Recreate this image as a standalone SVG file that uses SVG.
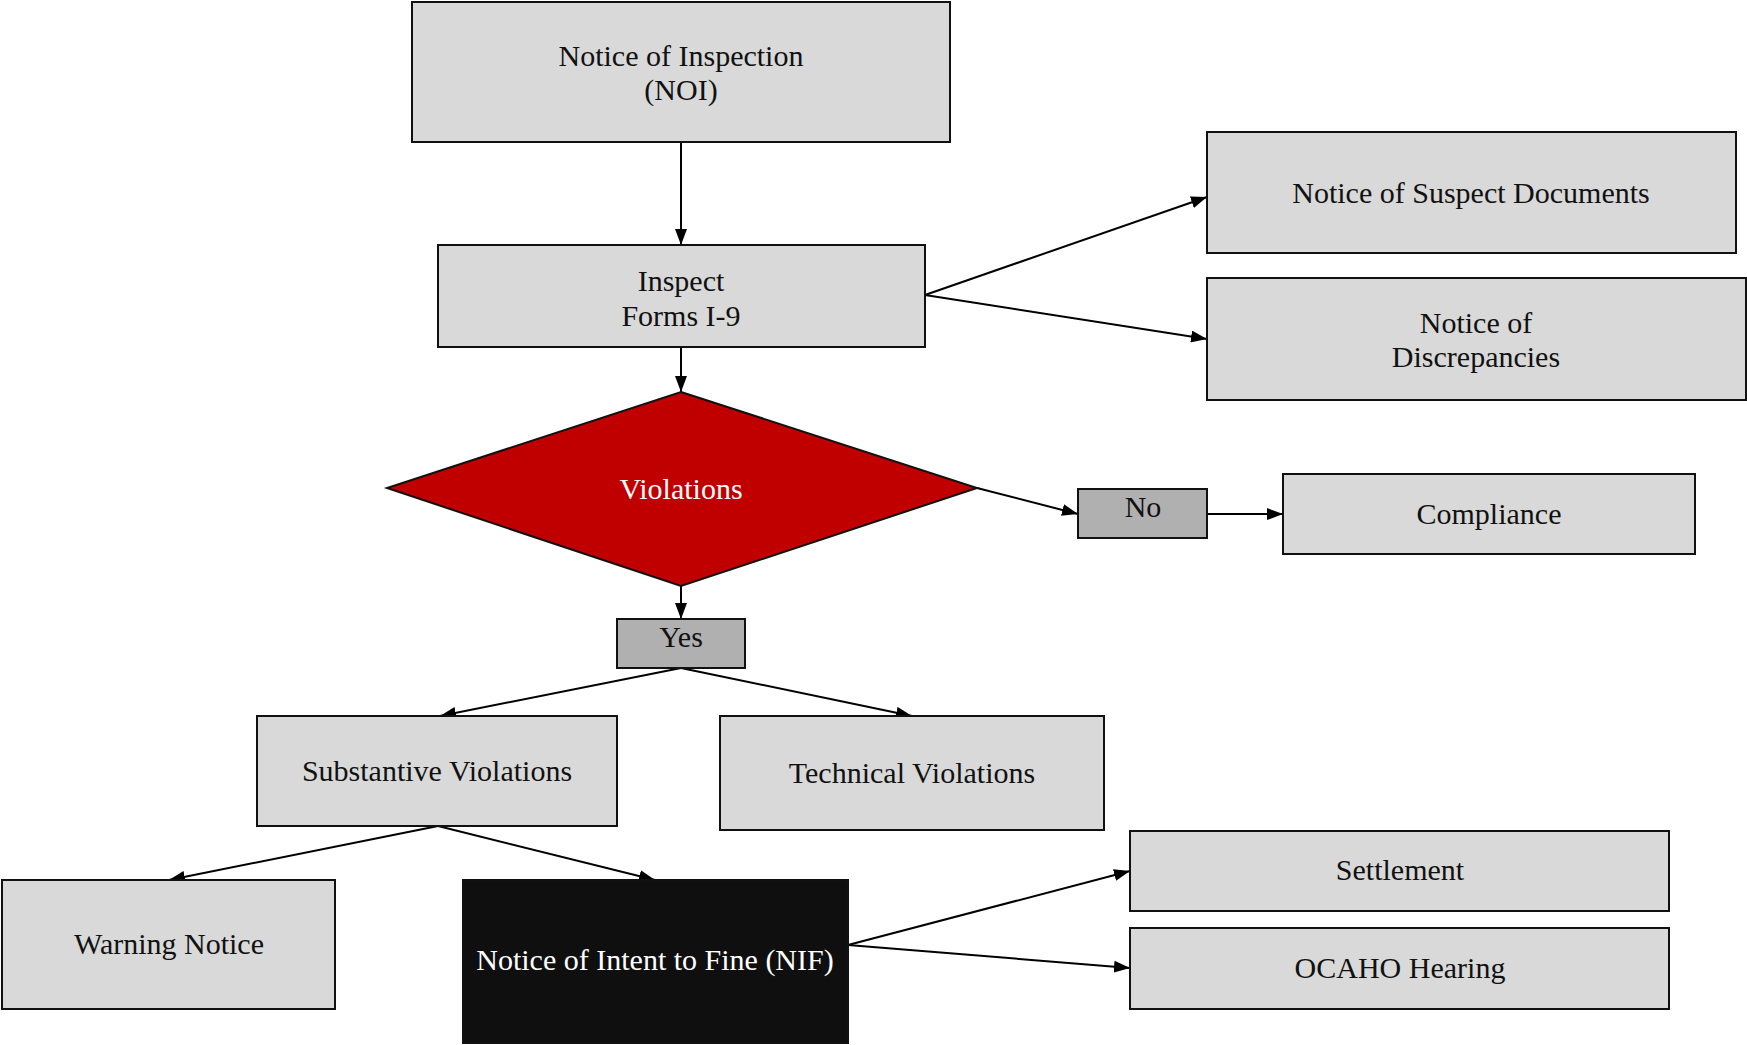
<svg xmlns="http://www.w3.org/2000/svg" width="1747" height="1045" viewBox="0 0 1747 1045">
<defs>
<marker id="ah" viewBox="0 0 16 12" refX="16" refY="6" markerWidth="16" markerHeight="12" markerUnits="userSpaceOnUse" orient="auto">
<path d="M0,0 L16,6 L0,12 z" fill="#000"/>
</marker>
<style>
.box{fill:#d9d9d9;stroke:#111;stroke-width:2}
.lbl{fill:#b0b0b0;stroke:#111;stroke-width:2}
.t{font-family:"Liberation Serif","Times New Roman",serif;font-size:30px;fill:#111;text-anchor:middle}
.w{fill:#fff}
.c{fill:none;stroke:#000;stroke-width:2;marker-end:url(#ah)}
</style>
</defs>
<rect width="1747" height="1045" fill="#fff"/>
<g id="connectors">
<line class="c" x1="681" y1="142" x2="681" y2="245"/>
<line class="c" x1="925" y1="295" x2="1207" y2="197"/>
<line class="c" x1="925" y1="295" x2="1207" y2="339"/>
<line class="c" x1="681" y1="347" x2="681" y2="392"/>
<line class="c" x1="977" y1="488" x2="1078" y2="514"/>
<line class="c" x1="1207" y1="514" x2="1283" y2="514"/>
<line class="c" x1="681" y1="586" x2="681" y2="619"/>
<line class="c" x1="681" y1="668" x2="440" y2="716"/>
<line class="c" x1="681" y1="668" x2="912" y2="716"/>
<line class="c" x1="438" y1="826" x2="169" y2="880"/>
<line class="c" x1="438" y1="826" x2="655" y2="880"/>
<line class="c" x1="848" y1="945" x2="1130" y2="871"/>
<line class="c" x1="848" y1="945" x2="1130" y2="968"/>
</g>
<g id="noi"><rect class="box" x="412" y="2" width="538" height="140"/><text class="t" x="681" y="66">Notice of Inspection</text><text class="t" x="681" y="100">(NOI)</text></g>
<g id="inspect"><rect class="box" x="438" y="245" width="487" height="102"/><text class="t" x="681" y="291">Inspect</text><text class="t" x="681" y="326">Forms I-9</text></g>
<g id="suspect"><rect class="box" x="1207" y="132" width="529" height="121"/><text class="t" x="1471" y="203">Notice of Suspect Documents</text></g>
<g id="discrepancies"><rect class="box" x="1207" y="278" width="539" height="122"/><text class="t" x="1476" y="333">Notice of</text><text class="t" x="1476" y="367">Discrepancies</text></g>
<g id="violations"><polygon points="681,392 977,488 681,586 387,488" fill="#c00000" stroke="#111" stroke-width="2"/><text class="t w" x="681" y="499">Violations</text></g>
<g id="no"><rect class="lbl" x="1078" y="489" width="129" height="49"/><text class="t" x="1143" y="517">No</text></g>
<g id="compliance"><rect class="box" x="1283" y="474" width="412" height="80"/><text class="t" x="1489" y="524">Compliance</text></g>
<g id="yes"><rect class="lbl" x="617" y="619" width="128" height="49"/><text class="t" x="681" y="647">Yes</text></g>
<g id="substantive"><rect class="box" x="257" y="716" width="360" height="110"/><text class="t" x="437" y="781">Substantive Violations</text></g>
<g id="technical"><rect class="box" x="720" y="716" width="384" height="114"/><text class="t" x="912" y="783">Technical Violations</text></g>
<g id="warning"><rect class="box" x="2" y="880" width="333" height="129"/><text class="t" x="169" y="954">Warning Notice</text></g>
<g id="nif"><rect x="463" y="880" width="385" height="163" fill="#0f0f0f" stroke="#111" stroke-width="2"/><text class="t w" x="655" y="970">Notice of Intent to Fine (NIF)</text></g>
<g id="settlement"><rect class="box" x="1130" y="831" width="539" height="80"/><text class="t" x="1400" y="880">Settlement</text></g>
<g id="ocaho"><rect class="box" x="1130" y="928" width="539" height="81"/><text class="t" x="1400" y="978">OCAHO Hearing</text></g>
</svg>
